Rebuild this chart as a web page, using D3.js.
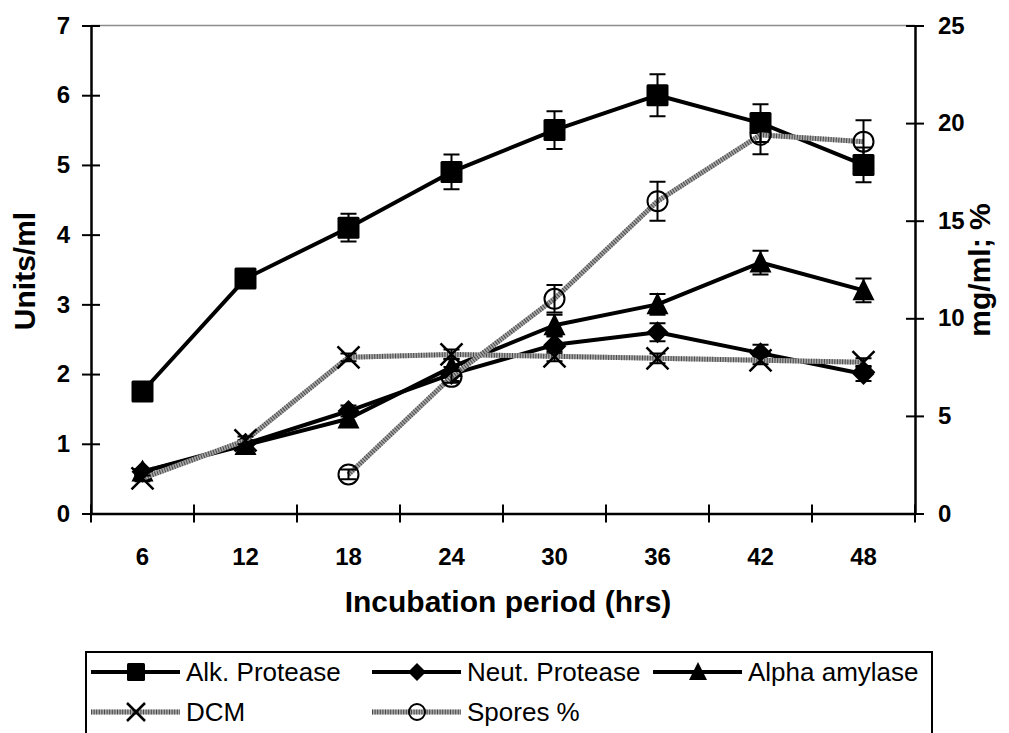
<!DOCTYPE html>
<html>
<head>
<meta charset="utf-8">
<script src="https://cdn.jsdelivr.net/npm/d3@7"></script>
<style>
body { margin: 0; background: #fff; }
svg { display: block; font-family: Arial, "Liberation Sans", sans-serif; }
</style>
</head>
<body>
<svg id="chart" width="1009" height="733"></svg>
<script>
// data
var hours = ['6', '12', '18', '24', '30', '36', '42', '48'];

var alkProtease = [1.75, 3.37, 4.1, 4.9, 5.5, 6.0, 5.6, 5.0],
	alkErr = [0.05, 0.08, 0.2, 0.25, 0.27, 0.3, 0.27, 0.25];
var neutProtease = [0.6, 1.0, 1.47, 2.0, 2.42, 2.6, 2.3, 2.0],
	neutErr = [0.04, 0.05, 0.08, 0.1, 0.12, 0.13, 0.12, 0.1];
var alphaAmylase = [0.6, 0.98, 1.36, 2.1, 2.7, 3.0, 3.6, 3.2],
	alphaErr = [0.04, 0.05, 0.1, 0.12, 0.15, 0.15, 0.17, 0.17];
var dcm = [1.8, 3.75, 8.0, 8.15, 8.05, 7.95, 7.85, 7.75],
	dcmErr = [0.15, 0.2, 0.2, 0.25, 0.25, 0.25, 0.2, 0.2];
var spores = [null, null, 2.0, 7.0, 11.0, 16.0, 19.4, 19.05],
	sporesErr = [null, null, 0.25, 0.3, 0.7, 1.0, 1.0, 1.1];

var leftTicks = [0, 1, 2, 3, 4, 5, 6, 7],
	rightTicks = [0, 5, 10, 15, 20, 25];

var svg = d3.select('#chart');

var plot = {left: 91, right: 915, top: 25.5, bottom: 513.5};

var x = d3.scaleBand().domain(hours).range([plot.left, plot.right]);
var yLeft = d3.scaleLinear().domain([0, 7]).range([plot.bottom, plot.top]);
var yRight = d3.scaleLinear().domain([0, 25]).range([plot.bottom, plot.top]);

var series = [
	{name: 'Alk. Protease', values: alkProtease, err: alkErr, y: yLeft, marker: 'square', gray: false},
	{name: 'Neut. Protease', values: neutProtease, err: neutErr, y: yLeft, marker: 'diamond', gray: false},
	{name: 'Alpha amylase', values: alphaAmylase, err: alphaErr, y: yLeft, marker: 'triangle', gray: false},
	{name: 'DCM', values: dcm, err: dcmErr, y: yRight, marker: 'cross', gray: true},
	{name: 'Spores %', values: spores, err: sporesErr, y: yRight, marker: 'circle', gray: true}
];

var cx = function(i) {
	return x(hours[i]) + x.bandwidth() / 2;
};

var drawMarker = function(g, type, px, py, s) {
	var h = s / 2;
	if (type == 'square') {
		g.append('rect').attr('x', px - h).attr('y', py - h)
			.attr('width', s).attr('height', s).attr('rx', 1.5).attr('fill', '#000');
	} else if (type == 'diamond') {
		g.append('path').attr('d', 'M' + px + ',' + (py - h) + 'L' + (px + h) + ',' + py +
			'L' + px + ',' + (py + h) + 'L' + (px - h) + ',' + py + 'Z').attr('fill', '#000');
	} else if (type == 'triangle') {
		g.append('path').attr('d', 'M' + px + ',' + (py - s * 0.55) + 'L' + (px + h) + ',' + (py + s * 0.45) +
			'L' + (px - h) + ',' + (py + s * 0.45) + 'Z').attr('fill', '#000');
	} else if (type == 'cross') {
		g.append('path').attr('d', 'M' + (px - h) + ',' + (py - h) + 'L' + (px + h) + ',' + (py + h) +
			'M' + (px + h) + ',' + (py - h) + 'L' + (px - h) + ',' + (py + h))
			.attr('stroke', '#000').attr('stroke-width', 2.5).attr('fill', 'none');
	} else if (type == 'circle') {
		g.append('circle').attr('cx', px).attr('cy', py).attr('r', h - 1)
			.attr('fill', 'none').attr('stroke', '#000').attr('stroke-width', 2);
	}
};

// gray patterned line (approximation of excel's dotted gray)
var strokeLine = function(g, d, gray, w) {
	if (gray) {
		g.append('path').attr('d', d).attr('fill', 'none')
			.attr('stroke', '#a8a8a8').attr('stroke-width', w + 1);
		g.append('path').attr('d', d).attr('fill', 'none')
			.attr('stroke', '#4a4a4a').attr('stroke-width', w + 1)
			.attr('stroke-dasharray', '1,1.6');
	} else {
		g.append('path').attr('d', d).attr('fill', 'none')
			.attr('stroke', '#000').attr('stroke-width', w)
			.attr('stroke-linejoin', 'round');
	}
};

// top border of plot area
svg.append('line')
	.attr('x1', plot.left).attr('x2', plot.right)
	.attr('y1', plot.top).attr('y2', plot.top)
	.attr('stroke', '#8c8c8c').attr('stroke-width', 1.5);

// left axis
var gLeft = svg.append('g')
	.attr('transform', 'translate(' + plot.left + ',0)')
	.call(d3.axisLeft(yLeft).tickValues(leftTicks).tickFormat(d3.format('d'))
		.tickSizeInner(9).tickSizeOuter(0).tickPadding(12));
gLeft.selectAll('.tick line').attr('x1', 9).attr('stroke-width', 2);

// right axis
var gRight = svg.append('g')
	.attr('transform', 'translate(' + plot.right + ',0)')
	.call(d3.axisRight(yRight).tickValues(rightTicks).tickFormat(d3.format('d'))
		.tickSizeInner(9).tickSizeOuter(0).tickPadding(14));
gRight.selectAll('.tick line').attr('x1', -9).attr('stroke-width', 2);

// bottom axis, labels at band centres
var gBottom = svg.append('g')
	.attr('transform', 'translate(0,' + plot.bottom + ')')
	.call(d3.axisBottom(x).tickSize(0).tickPadding(34));

[gLeft, gRight, gBottom].forEach(function(g) {
	g.attr('font-size', 24).attr('font-weight', 'bold')
		.attr('font-family', 'Arial, "Liberation Sans", sans-serif');
	g.select('.domain').attr('stroke', '#000').attr('stroke-width', 2.5);
	g.selectAll('.tick text').attr('fill', '#000');
});

// category boundary ticks
svg.append('g').selectAll('line')
	.data(d3.range(hours.length + 1))
	.enter().append('line')
	.attr('x1', function(d) { return plot.left + d * x.step(); })
	.attr('x2', function(d) { return plot.left + d * x.step(); })
	.attr('y1', plot.bottom - 9).attr('y2', plot.bottom + 9)
	.attr('stroke', '#000').attr('stroke-width', 2);

// axis titles
svg.append('text')
	.attr('transform', 'translate(35,271) rotate(-90)')
	.attr('text-anchor', 'middle')
	.style('font-size', '30px').style('font-weight', 'bold')
	.text('Units/ml');

svg.append('text')
	.attr('transform', 'translate(990,270) rotate(-90)')
	.attr('text-anchor', 'middle')
	.style('font-size', '30px').style('font-weight', 'bold')
	.text('mg/ml; %');

svg.append('text')
	.attr('x', 508).attr('y', 612)
	.attr('text-anchor', 'middle')
	.style('font-size', '30px').style('font-weight', 'bold')
	.text('Incubation period (hrs)');

// series
series.forEach(function(s) {
	var g = svg.append('g'),
		line = d3.line()
			.defined(function(d) { return d != null; })
			.x(function(d, i) { return cx(i); })
			.y(function(d) { return s.y(d); });

	strokeLine(g, line(s.values), s.gray, 4);

	s.values.forEach(function(v, i) {
		if (v == null || s.err[i] == null) return;
		var top = s.y(v + s.err[i]),
			bot = s.y(v - s.err[i]),
			px = cx(i);
		g.append('path')
			.attr('d', 'M' + px + ',' + top + 'V' + bot +
				'M' + (px - 8) + ',' + top + 'H' + (px + 8) +
				'M' + (px - 8) + ',' + bot + 'H' + (px + 8))
			.attr('stroke', '#000').attr('stroke-width', 2).attr('fill', 'none');
	});

	s.values.forEach(function(v, i) {
		if (v == null) return;
		drawMarker(g, s.marker, cx(i), s.y(v), 22);
	});
});

// legend
var legend = svg.append('g');
legend.append('rect')
	.attr('x', 86).attr('y', 652)
	.attr('width', 846).attr('height', 110)
	.attr('fill', 'none').attr('stroke', '#000').attr('stroke-width', 2);

var colX = [91, 372, 653],
	rowY = [672, 712];

series.forEach(function(s, i) {
	var lx = colX[i % 3],
		ly = rowY[Math.floor(i / 3)];
	strokeLine(legend, 'M' + lx + ',' + ly + 'H' + (lx + 89), s.gray, 4);
	drawMarker(legend, s.marker, lx + 45, ly, 18);
	legend.append('text')
		.attr('x', lx + 95).attr('y', ly).attr('dy', '0.36em')
		.style('font-size', '26px')
		.text(s.name);
});
</script>
</body>
</html>
